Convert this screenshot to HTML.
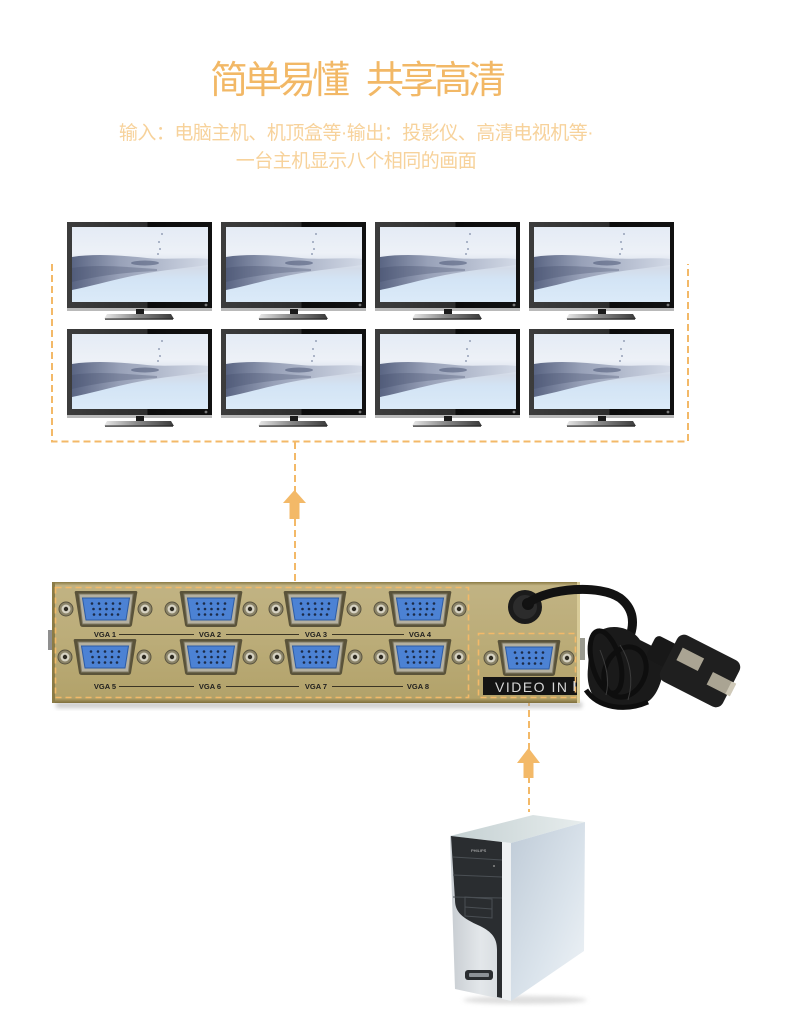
<!DOCTYPE html>
<html><head><meta charset="utf-8">
<style>
html,body{margin:0;padding:0;background:#fff;}
body{width:790px;height:1030px;position:relative;overflow:hidden;}
.t{position:absolute;left:0;width:712px;text-align:center;white-space:nowrap;font-family:"Liberation Sans","Noto Sans CJK SC",sans-serif;}
#title{top:61px;font-size:38px;line-height:40px;letter-spacing:-4px;color:#f2b866;}
#s1{top:123px;font-size:19px;line-height:22px;letter-spacing:-0.5px;color:#f7d29b;}
#s2{top:151px;font-size:19px;line-height:22px;letter-spacing:-0.5px;color:#f7d29b;}
svg{position:absolute;left:0;top:0;}
</style></head><body>
<svg width="790" height="1030" viewBox="0 0 790 1030" xmlns="http://www.w3.org/2000/svg">
<defs>
 <linearGradient id="frame" x1="0" y1="0" x2="1" y2="0">
  <stop offset="0" stop-color="#3c3c3c"/><stop offset="0.55" stop-color="#2e2e2e"/>
  <stop offset="0.56" stop-color="#0c0c0c"/><stop offset="1" stop-color="#111"/>
 </linearGradient>
 <linearGradient id="scr" x1="0" y1="0" x2="0" y2="1">
  <stop offset="0" stop-color="#e4ebf5"/><stop offset="0.35" stop-color="#edf1f7"/>
  <stop offset="0.55" stop-color="#d3dbe8"/><stop offset="0.7" stop-color="#d3e4f5"/>
  <stop offset="1" stop-color="#dbeaf8"/>
 </linearGradient>
 <linearGradient id="wave" x1="0" y1="0" x2="1" y2="0">
  <stop offset="0" stop-color="#5a6583"/><stop offset="0.35" stop-color="#98a1b8"/>
  <stop offset="1" stop-color="#d2d9e6"/>
 </linearGradient>
 <linearGradient id="base" x1="0" y1="0" x2="1" y2="0">
  <stop offset="0" stop-color="#e9e9e9"/><stop offset="0.45" stop-color="#8d8d8d"/>
  <stop offset="1" stop-color="#3a3a3a"/>
 </linearGradient>
 <g id="mon">
  <rect x="0" y="0" width="145" height="89" fill="url(#frame)"/>
  <rect x="5" y="5" width="136" height="75" fill="url(#scr)"/>
  <path d="M5,35 C30,31 60,34 80,36 C100,38 125,35 141,37 L141,43 C120,46 95,48 70,53 C45,58 25,64 5,68 Z" fill="url(#wave)"/>
  <path d="M5,46 C30,42 60,45 90,47 L90,49 C60,50 30,54 5,60 Z" fill="#3f4867" opacity="0.3"/>
  <ellipse cx="78" cy="41" rx="14" ry="2.5" fill="#4b5574" opacity="0.55"/>
  <circle cx="95" cy="12" r="0.9" fill="#7d8aa5"/><circle cx="92" cy="20" r="0.9" fill="#7d8aa5"/>
  <circle cx="93" cy="27" r="0.9" fill="#7d8aa5"/><circle cx="91" cy="32" r="0.9" fill="#7d8aa5"/>
  <rect x="0" y="86" width="145" height="3" fill="#b9b9b9"/>
  <circle cx="139" cy="83" r="1.4" fill="#777"/>
  <rect x="69" y="87" width="8" height="9" fill="#1b1b1b"/>
  <polygon points="40,92 104,92 107,97 37,97" fill="url(#base)"/>
  <rect x="38" y="96.5" width="68" height="1.2" fill="#222"/>
 </g>
 <linearGradient id="gold" x1="0" y1="0" x2="0" y2="1">
  <stop offset="0" stop-color="#8a7a44"/><stop offset="0.03" stop-color="#c1b383"/>
  <stop offset="0.5" stop-color="#bbac78"/><stop offset="0.96" stop-color="#b2a26a"/>
  <stop offset="1" stop-color="#7e6e3c"/>
 </linearGradient>
 <g id="vga">
  <path d="M-30,-18 L30,-18 Q32,-18 31,-15 L26,16 Q25.5,18 23,18 L-23,18 Q-25.5,18 -26,16 L-31,-15 Q-32,-18 -30,-18 Z" fill="#5a533a"/>
  <path d="M-27,-15 L27,-15 L23.5,15 L-23.5,15 Z" fill="#b4b0a0" stroke="#7e7862" stroke-width="1"/>
  <path d="M-23.5,-11 L23.5,-11 L20,11 L-20,11 Z" fill="#4c82d4" stroke="#2c5ba5" stroke-width="1"/>
  <g fill="#1c2b48">
   <circle cx="-14" cy="-5.5" r="1.3"/><circle cx="-7" cy="-5.5" r="1.3"/><circle cx="0" cy="-5.5" r="1.3"/><circle cx="7" cy="-5.5" r="1.3"/><circle cx="14" cy="-5.5" r="1.3"/>
   <circle cx="-12.5" cy="0" r="1.3"/><circle cx="-6" cy="0" r="1.3"/><circle cx="0.5" cy="0" r="1.3"/><circle cx="7" cy="0" r="1.3"/><circle cx="13.5" cy="0" r="1.3"/>
   <circle cx="-12" cy="5.5" r="1.3"/><circle cx="-6" cy="5.5" r="1.3"/><circle cx="0" cy="5.5" r="1.3"/><circle cx="6" cy="5.5" r="1.3"/><circle cx="12" cy="5.5" r="1.3"/>
  </g>
 </g>
 <g id="scw">
  <circle r="7" fill="#8b8469" stroke="#5a5440" stroke-width="1"/>
  <circle r="4.5" fill="#d6d2c2"/>
  <circle r="2.2" fill="#2e2b22"/>
 </g>
 <linearGradient id="side" x1="0" y1="0" x2="1" y2="1">
  <stop offset="0" stop-color="#bfcbd7"/><stop offset="0.6" stop-color="#dbe4ec"/><stop offset="1" stop-color="#f0f4f7"/>
 </linearGradient>
 <linearGradient id="topf" x1="0" y1="0" x2="1" y2="0">
  <stop offset="0" stop-color="#c4d0d2"/><stop offset="1" stop-color="#e7eded"/>
 </linearGradient>
 <linearGradient id="front" x1="0" y1="0" x2="1" y2="0">
  <stop offset="0" stop-color="#c7ccd1"/><stop offset="0.5" stop-color="#e3e7ea"/><stop offset="1" stop-color="#d2d7db"/>
 </linearGradient>
 <filter id="blur" x="-20%" y="-50%" width="140%" height="200%"><feGaussianBlur stdDeviation="2"/></filter>
</defs>

<!-- monitors -->
<use href="#mon" x="67" y="222"/><use href="#mon" x="221" y="222"/><use href="#mon" x="375" y="222"/><use href="#mon" x="529" y="222"/>
<use href="#mon" x="67" y="329"/><use href="#mon" x="221" y="329"/><use href="#mon" x="375" y="329"/><use href="#mon" x="529" y="329"/>

<!-- dashed bracket -->
<g stroke="#f3b968" stroke-width="2" fill="none" stroke-dasharray="7 4">
 <path d="M52,264 L52,441.5 L688,441.5 L688,264"/>
 <path d="M295,442 L295,584"/>
 <path d="M529,699 L529,812"/>
</g>
<polygon points="283,503 294.5,490 306,503" fill="#f3b968"/>
<rect x="289.5" y="502" width="10" height="17" fill="#f3b968"/>
<polygon points="517,763 528.5,748 540,763" fill="#f3b968"/>
<rect x="523.5" y="762" width="10" height="16" fill="#f3b968"/>

<!-- device -->
<rect x="56" y="702" width="526" height="6" fill="#999" opacity="0.5" filter="url(#blur)"/>
<rect x="48" y="630" width="5" height="20" fill="#8f8f8f"/>
<rect x="52" y="582" width="528" height="121" fill="url(#gold)"/>
<rect x="52" y="582" width="3" height="121" fill="#8b7b45"/>
<rect x="577" y="582" width="3" height="121" fill="#d8cb98"/>
<rect x="580" y="638" width="5" height="22" fill="#9a9a90"/>

<!-- grommet -->
<circle cx="525" cy="607" r="17" fill="#1b1b1b"/>
<circle cx="525" cy="607" r="12" fill="#2c2c2c"/>
<circle cx="528" cy="604" r="6" fill="#111"/>

<!-- ports -->
<use href="#vga" x="106" y="609"/><use href="#vga" x="211" y="609"/><use href="#vga" x="315" y="609"/><use href="#vga" x="420" y="609"/>
<use href="#vga" x="105" y="657"/><use href="#vga" x="211" y="657"/><use href="#vga" x="316" y="657"/><use href="#vga" x="420" y="657"/>
<use href="#scw" x="66" y="609"/><use href="#scw" x="145" y="609"/><use href="#scw" x="172" y="609"/><use href="#scw" x="250" y="609"/>
<use href="#scw" x="276" y="609"/><use href="#scw" x="354" y="609"/><use href="#scw" x="381" y="609"/><use href="#scw" x="459" y="609"/>
<use href="#scw" x="65" y="657"/><use href="#scw" x="144" y="657"/><use href="#scw" x="172" y="657"/><use href="#scw" x="250" y="657"/>
<use href="#scw" x="277" y="657"/><use href="#scw" x="355" y="657"/><use href="#scw" x="381" y="657"/><use href="#scw" x="459" y="657"/>

<g font-family="Liberation Sans, sans-serif" font-size="7.5" font-weight="bold" fill="#1e1e1e" text-anchor="middle">
 <text x="105" y="637">VGA 1</text><text x="210" y="637">VGA 2</text><text x="316" y="637">VGA 3</text><text x="420" y="637">VGA 4</text>
 <text x="105" y="689">VGA 5</text><text x="210" y="689">VGA 6</text><text x="316" y="689">VGA 7</text><text x="418" y="689">VGA 8</text>
</g>
<g stroke="#3a3424" stroke-width="1">
 <path d="M119,634.5 H194 M226,634.5 H299 M332,634.5 H404"/>
 <path d="M119,686.5 H194 M226,686.5 H299 M332,686.5 H403"/>
</g>

<!-- video in -->
<use href="#vga" x="529" y="658"/>
<use href="#scw" x="491" y="658"/><use href="#scw" x="567" y="658"/>
<rect x="483" y="677" width="94" height="18" fill="#141414"/>
<text x="495" y="692" font-family="Liberation Sans, sans-serif" font-size="14" letter-spacing="1.5" fill="#d6d6d6">VIDEO IN</text>
<rect x="573.5" y="681" width="2" height="10" fill="#d6d6d6"/>

<!-- device dashed boxes -->
<g stroke="#f3b968" stroke-width="1.6" fill="none" stroke-dasharray="6 4">
 <rect x="55.5" y="587.5" width="413" height="110"/>
 <rect x="478.5" y="633.5" width="97" height="64"/>
</g>

<!-- cable -->
<path d="M528,603 C548,588 600,584 620,598 C638,612 634,632 624,648" stroke="#121212" stroke-width="9" fill="none" stroke-linecap="round"/>
<path d="M598,632 C612,622 632,628 640,640 L660,650 C668,660 662,690 650,700 C640,708 620,712 605,706 C592,700 586,685 588,668 C589,652 590,640 598,632 Z" fill="#1a1a1a"/>
<g fill="none" stroke="#0e0e0e" stroke-width="5">
 <ellipse cx="606" cy="662" rx="14" ry="32" transform="rotate(-15 606 662)"/>
 <ellipse cx="625" cy="672" rx="20" ry="26" transform="rotate(25 625 672)"/>
 <path d="M586,690 C598,708 625,712 648,702"/>
</g>
<g fill="none" stroke="#3c3c3c" stroke-width="1">
 <path d="M600,650 C606,665 610,680 606,695"/>
 <path d="M620,645 C630,660 634,680 628,700"/>
</g>
<!-- plug -->
<g transform="translate(700,671) rotate(27)">
 <rect x="-55" y="-13" width="26" height="26" rx="5" fill="#181818"/>
 <rect x="-35" y="-26" width="70" height="52" rx="8" fill="#1f1f1f"/>
 <rect x="-26" y="-13" width="24" height="14" fill="#aaa493"/>
 <rect x="12" y="-5" width="26" height="14" fill="#aaa493"/>
 <rect x="33" y="-5" width="5" height="14" fill="#cfc9b8"/>
</g>

<!-- computer tower -->
<ellipse cx="525" cy="1000" rx="62" ry="4" fill="#bbb" opacity="0.5" filter="url(#blur)"/>
<polygon points="450,836 533,815 585,822 511,843" fill="url(#topf)"/>
<polygon points="511,843 585,822 584,951 511,1001" fill="url(#side)"/>
<polygon points="450,836 511,843 511,1001 455,989" fill="url(#front)"/>
<polygon points="502,842 511,843 511,1001 502,999" fill="#eef1f3"/>
<path d="M451,836 L502,842 L502,998 L497,997 L497,950 C497,938 492,932 480,926 C462,918 455,912 455,900 Z" fill="#2a2d30"/>
<g stroke="#4a4f54" stroke-width="1">
 <path d="M453,857 L502,860 M453,875 L502,877 M453,897 L502,898"/>
 <path d="M465,897 L492,899 L492,918 L465,916 Z" fill="none"/>
 <path d="M465,907 L492,909"/>
</g>
<text x="471" y="852" font-family="Liberation Sans, sans-serif" font-size="4" fill="#c8c8c8">PHILIPS</text>
<circle cx="494" cy="866" r="1" fill="#888"/>
<rect x="465" y="970" width="28" height="10" rx="3" fill="#2a2d30"/>
<rect x="469" y="973" width="20" height="4" rx="1" fill="#8c9196"/>
</svg>

<div class="t" id="title">简单易懂<span style="display:inline-block;width:20px"></span>共享高清</div>
<div class="t" id="s1">输入：电脑主机、机顶盒等·输出：投影仪、高清电视机等·</div>
<div class="t" id="s2">一台主机显示八个相同的画面</div>
</body></html>
